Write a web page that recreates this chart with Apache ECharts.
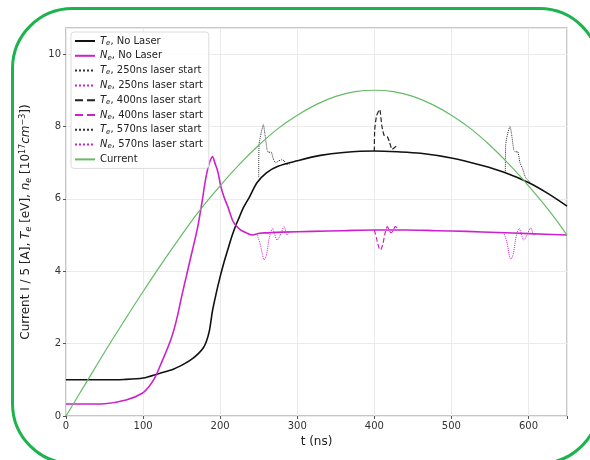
<!DOCTYPE html>
<html>
<head>
<meta charset="utf-8">
<script src="https://cdn.jsdelivr.net/npm/echarts@6/dist/echarts.min.js"></script>
<style>
html,body{margin:0;padding:0;background:#fff;}
#c{width:590px;height:460px;}
</style>
</head>
<body>
<div id="c"></div>
<script>
// ---- data ----
var xTicks = [0, 100, 200, 300, 400, 500, 600];
var yTicks = [0, 2, 4, 6, 8, 10];

var teNoLaserT = [0, 25, 50, 75, 100, 120, 140, 155, 165, 172, 178, 182, 186, 190, 195, 200, 205, 210, 215, 220, 225, 230, 238, 248, 260, 275, 300, 330, 360, 400, 430, 460, 500, 540, 570, 600, 625, 650];
var teNoLaserV = [1.0, 1.0, 1.0, 1.01, 1.05, 1.17, 1.3, 1.46, 1.6, 1.73, 1.88, 2.05, 2.35, 2.9, 3.4, 3.85, 4.25, 4.6, 4.95, 5.25, 5.5, 5.75, 6.05, 6.45, 6.72, 6.9, 7.05, 7.2, 7.28, 7.32, 7.3, 7.26, 7.13, 6.92, 6.72, 6.45, 6.15, 5.8];

var neNoLaserT = [0, 25, 50, 78, 99, 108, 116, 122, 129, 135, 140, 145, 150, 156, 162, 167, 171, 174, 177, 180, 184, 187, 190, 193, 197, 201, 205, 210, 216, 220, 226, 233, 242, 251, 260, 280, 320, 360, 400, 440, 480, 520, 560, 600, 650];
var neNoLaserV = [0.33, 0.33, 0.34, 0.44, 0.63, 0.82, 1.09, 1.38, 1.73, 2.05, 2.38, 2.8, 3.3, 3.85, 4.4, 4.85, 5.23, 5.6, 5.98, 6.4, 6.84, 7.05, 7.17, 7.0, 6.75, 6.33, 6.05, 5.78, 5.41, 5.28, 5.15, 5.07, 5.0, 5.05, 5.06, 5.08, 5.1, 5.12, 5.14, 5.14, 5.12, 5.1, 5.07, 5.04, 5.0];

var te250T = [250, 250.5, 253, 256, 258, 261, 263, 266, 269, 272, 276, 280, 283, 286, 290];
var te250V = [6.6, 7.5, 7.8, 8.05, 7.8, 7.35, 7.28, 7.3, 7.1, 7.0, 7.05, 7.08, 7.05, 6.95, 6.95];
var ne250T = [248, 252, 255, 257, 260, 264, 268, 271, 274, 278, 283, 287, 290];
var ne250V = [5.0, 4.75, 4.45, 4.31, 4.45, 4.95, 5.18, 5.0, 4.86, 5.0, 5.23, 5.0, 5.08];

var te400T = [400, 400.5, 403, 407, 409.6, 412.6, 416.9, 420, 423, 427.7, 432];
var te400V = [7.32, 7.9, 8.3, 8.47, 8.04, 7.76, 7.72, 7.55, 7.37, 7.44, 7.49];
var ne400T = [400, 403, 406, 408, 411, 414, 417, 420, 422, 425, 427, 431];
var ne400V = [5.14, 4.9, 4.65, 4.59, 4.75, 5.05, 5.23, 5.1, 5.06, 5.15, 5.23, 5.18];

var te570T = [570, 570.5, 573, 576, 578, 581, 583, 586, 589, 592, 596, 600, 605];
var te570V = [6.72, 7.5, 7.8, 8.0, 7.8, 7.35, 7.3, 7.3, 7.0, 6.85, 6.6, 6.5, 6.38];
var ne570T = [568, 572, 575, 577, 580, 584, 588, 591, 594, 598, 603, 607, 610];
var ne570V = [5.07, 4.8, 4.45, 4.33, 4.45, 4.95, 5.18, 5.0, 4.86, 5.0, 5.2, 5.0, 5.05];

var currentT = [0, 25, 50, 75, 100, 125, 150, 175, 200, 225, 250, 275, 300, 325, 350, 375, 400, 425, 450, 475, 500, 525, 550, 575, 600, 625, 650];
var currentV = [0, 0.88, 1.76, 2.61, 3.44, 4.24, 5.0, 5.72, 6.36, 6.95, 7.48, 7.94, 8.31, 8.61, 8.83, 8.96, 9.0, 8.96, 8.83, 8.61, 8.31, 7.94, 7.48, 6.95, 6.36, 5.72, 5.0];

var legendNames = ['Te, No Laser', 'Ne, No Laser', 'Te, 250ns laser start', 'Ne, 250ns laser start',
  'Te, 400ns laser start', 'Ne, 400ns laser start', 'Te, 570ns laser start', 'Ne, 570ns laser start', 'Current'];

function pairs(t, v) { return t.map(function (x, i) { return [x, v[i]]; }); }

var BLACK = '#111111', MAG = '#cc22cc', GREEN = '#66bb66';

function mk(name, t, v, color, type, width, z, smooth) {
  return {
    name: name, type: 'line', data: pairs(t, v), symbol: 'none', showSymbol: false,
    smooth: smooth,
    lineStyle: { color: color, type: type, width: width }, itemStyle: { color: color },
    z: z || 2, silent: true
  };
}

var chart = echarts.init(document.getElementById('c'), null, { renderer: 'canvas' });
chart.setOption({
  animation: false,
  backgroundColor: '#ffffff',
  graphic: [{
    type: 'rect', left: 10, top: 6, z: -10,
    shape: { width: 587, height: 455, r: 60 },
    style: { fill: 'none', stroke: '#1db34f', lineWidth: 3 }
  }],
  grid: { left: 66, right: 23, top: 28, bottom: 44, show: true, borderColor: '#b5b5b5', borderWidth: 1.5, backgroundColor: 'transparent' },
  xAxis: {
    type: 'value', min: 0, max: 650, interval: 100,
    name: 't (ns)', nameLocation: 'middle', nameGap: 20,
    nameTextStyle: { fontSize: 12, color: '#222', fontFamily: 'DejaVu Sans' },
    axisLine: { show: false },
    axisTick: { show: true, length: 3, lineStyle: { color: '#555' } },
    axisLabel: { fontSize: 10, color: '#333', fontFamily: 'DejaVu Sans', margin: 5,
      formatter: function (v) { return xTicks.indexOf(v) >= 0 ? String(v) : ''; } },
    splitLine: { show: true, lineStyle: { color: '#ebebeb', width: 1 } }
  },
  yAxis: {
    type: 'value', min: 0, max: 10.72, interval: 2,
    name: 'Current I / 5 [A], {it|T}{sub|e} [eV], {it|n}{sub|e} [10{sup|17}{it|cm}{sup|−3}])',
    nameLocation: 'middle', nameGap: 33,
    nameTextStyle: { fontSize: 12, color: '#222', fontFamily: 'DejaVu Sans',
      rich: {
        it: { fontSize: 12, fontStyle: 'italic', color: '#222', fontFamily: 'DejaVu Sans' },
        sub: { fontSize: 8, color: '#222', fontStyle: 'italic', verticalAlign: 'bottom', padding: [6, 0, 0, 0], fontFamily: 'DejaVu Sans' },
        sup: { fontSize: 8, color: '#222', verticalAlign: 'top', padding: [0, 0, 6, 0], fontFamily: 'DejaVu Sans' }
      } },
    axisLine: { show: false },
    axisTick: { show: true, length: 3, lineStyle: { color: '#555' } },
    axisLabel: { fontSize: 10, color: '#333', fontFamily: 'DejaVu Sans', margin: 5, showMaxLabel: false,
      formatter: function (v) { return yTicks.indexOf(v) >= 0 ? String(v) : ''; } },
    splitLine: { show: true, lineStyle: { color: '#ebebeb', width: 1 } }
  },
  legend: {
    orient: 'vertical', left: 71, top: 32,
    data: legendNames,
    itemWidth: 20, itemHeight: 12, itemGap: 4.3,
    padding: [4, 6, 4, 3],
    itemStyle: { opacity: 0 },
    backgroundColor: 'rgba(255,255,255,0.85)', borderColor: '#dcdcdc', borderWidth: 1, borderRadius: 3,
    textStyle: { fontSize: 10, color: '#222', fontFamily: 'DejaVu Sans',
      rich: {
        it: { fontSize: 10, fontStyle: 'italic', color: '#222', fontFamily: 'DejaVu Sans' },
        sub: { fontSize: 7, fontStyle: 'italic', color: '#222', verticalAlign: 'bottom', padding: [4, 0, 0, 0], fontFamily: 'DejaVu Sans' },
        t: { fontSize: 10, color: '#222', fontFamily: 'DejaVu Sans' }
      } },
    formatter: function (name) {
      if (name === 'Current') return '{t|Current}';
      var sym = name.charAt(0) === 'T' ? 'T' : 'N';
      var rest = name.substring(2);
      return '{it|' + sym + '}{sub|e}{t|' + rest + '}';
    }
  },
  series: [
    mk(legendNames[0], teNoLaserT, teNoLaserV, BLACK, 'solid', 1.6, 3, 0.3),
    mk(legendNames[1], neNoLaserT, neNoLaserV, MAG, 'solid', 1.6, 3, 0.3),
    mk(legendNames[2], te250T, te250V, '#333', 'dotted', 1, 2, 0.2),
    mk(legendNames[3], ne250T, ne250V, MAG, 'dotted', 1, 2, 0.3),
    mk(legendNames[4], te400T, te400V, '#222', 'dashed', 1.2, 2, 0.2),
    mk(legendNames[5], ne400T, ne400V, MAG, 'dashed', 1.2, 2, 0.3),
    mk(legendNames[6], te570T, te570V, '#333', 'dotted', 1, 2, 0.2),
    mk(legendNames[7], ne570T, ne570V, MAG, 'dotted', 1, 2, 0.3),
    mk(legendNames[8], currentT, currentV, GREEN, 'solid', 1.2, 4, 0.4)
  ]
});
</script>
</body>
</html>
